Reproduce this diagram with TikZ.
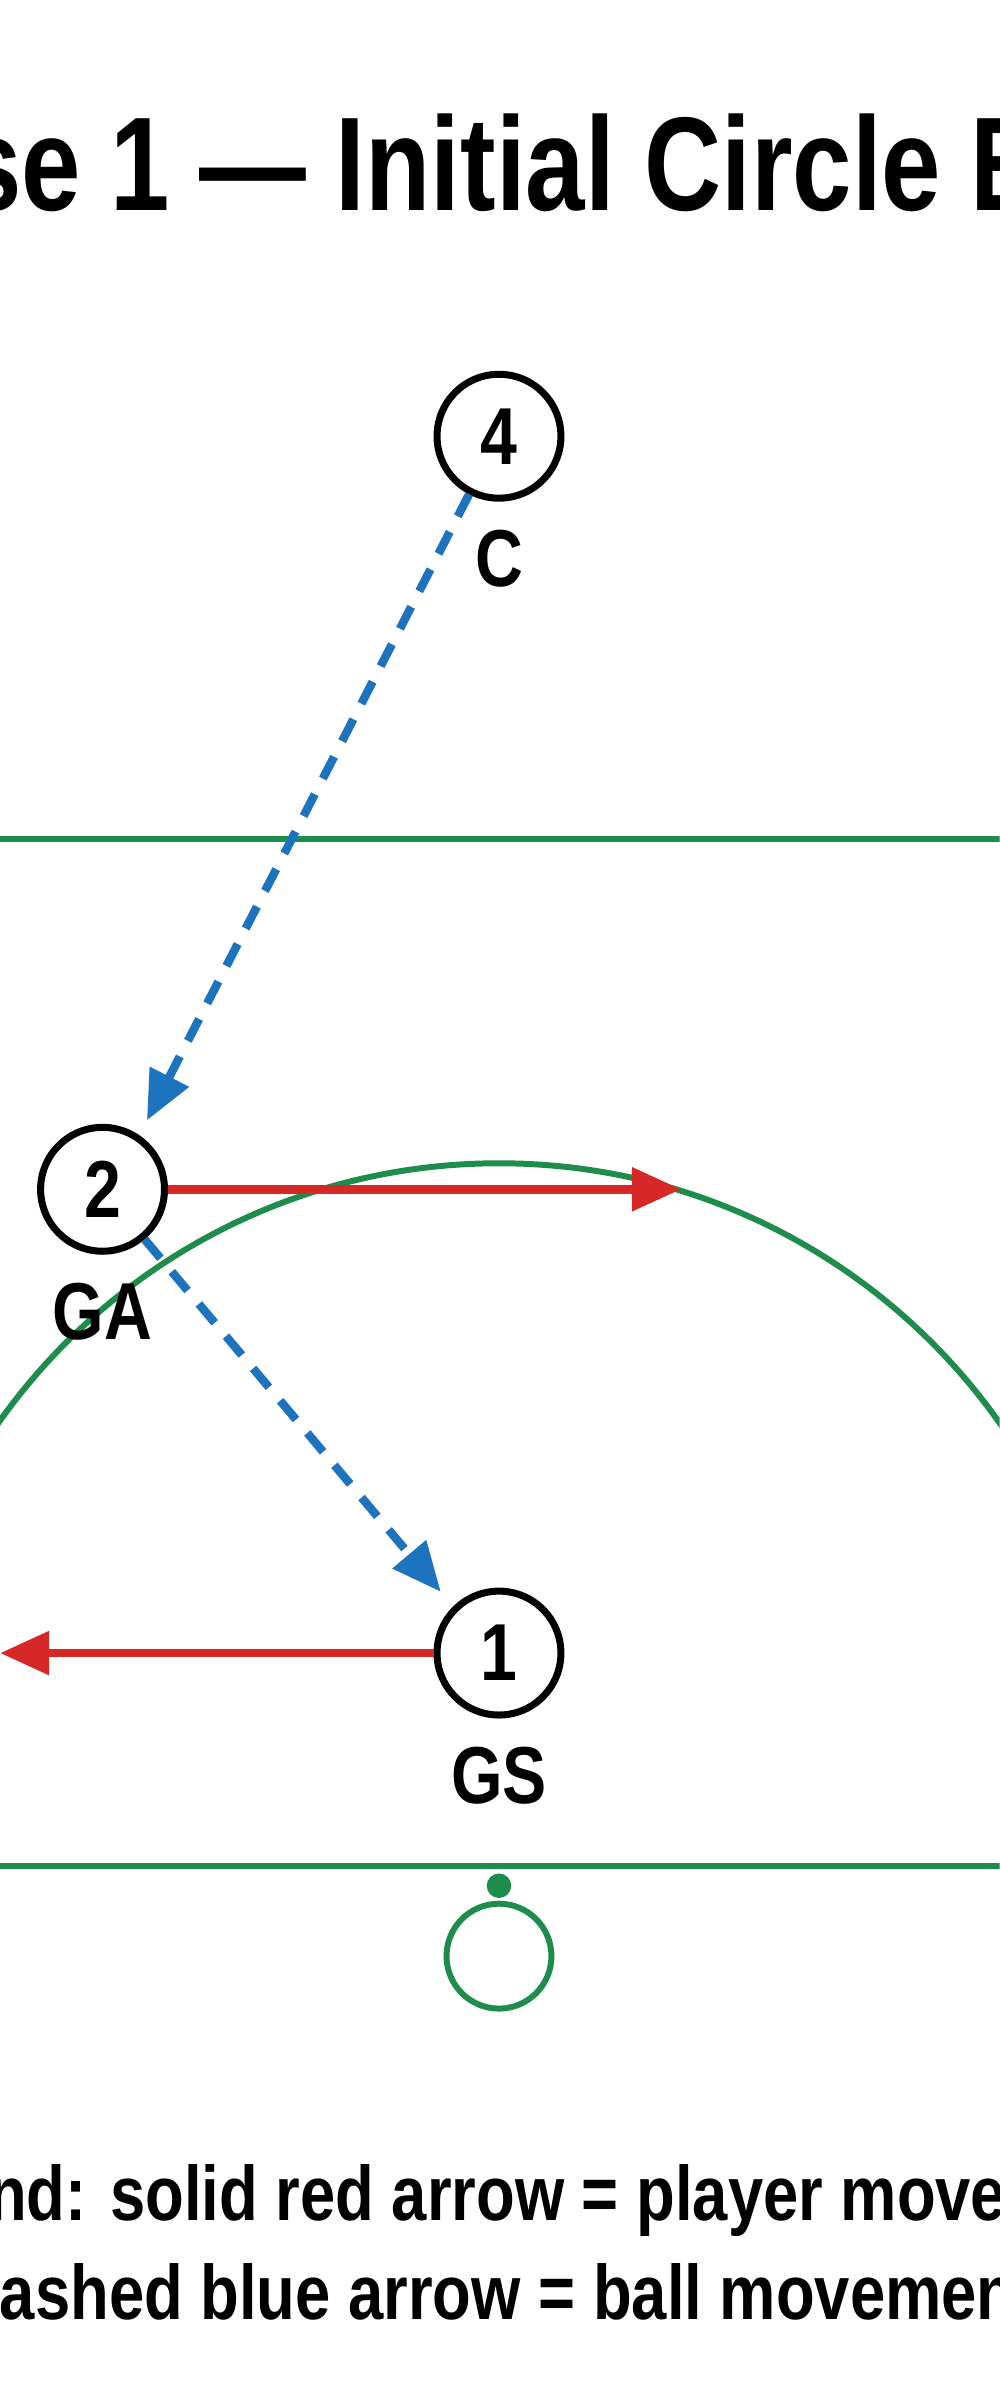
\documentclass[tikz,border=0pt]{standalone}
\usepackage{fontspec}
\setmainfont{Liberation Sans}
\usetikzlibrary{arrows.meta}
\definecolor{crt}{RGB}{30,140,75}
\definecolor{rd}{RGB}{215,40,40}
\definecolor{bl}{RGB}{30,115,190}
\newcommand{\cz}[1]{\scalebox{0.82}[1]{#1}}
\tikzset{
  player/.style={circle,draw=black,line width=2pt,fill=white,minimum size=1.24cm,inner sep=0pt,font=\fontsize{23}{25}\selectfont\bfseries},
  lab/.style={font=\fontsize{23}{25}\selectfont\bfseries},
  court/.style={draw=crt,line width=1.7pt},
  run/.style={draw=rd,line width=2.4pt,-{Triangle[length=14pt,width=12pt]}},
  pass/.style={draw=bl,line width=2.4pt,dash pattern=on 7pt off 5pt,-{Triangle[length=14pt,width=12pt]}},
}
\begin{document}
\begin{tikzpicture}[x=0.015314cm,y=-0.015314cm]
\useasboundingbox[fill=white] (0,0) rectangle (653,1568);
\clip (0,0) rectangle (653,1568);
\node[font=\fontsize{38}{40}\selectfont\bfseries] (title) at (330,115) {\scalebox{0.8}[1]{Phase 1 — Initial Circle Entry}};
% court
\draw[court] (0,548) -- (653,548);
\draw[court] (0,1219) -- (653,1219);
\begin{scope}
\clip (0,548) rectangle (653,1219);
\draw[court] (326,1160) circle[radius=400];
\end{scope}
\fill[crt] (326,1232) circle[radius=8];
\node[circle,draw=crt,line width=1.7pt,minimum size=1.05cm] (post) at (326,1278) {};
% players
\coordinate (r1) at (445,777);
\coordinate (r2) at (0,1080);
\coordinate (b1) at (96,732);
\coordinate (b2) at (288,1040);
\node[player] (p4) at (326,285) {\cz{4}};
\node[lab] (c) at (326,365) {\cz{C}};
\node[player] (p2) at (67,777) {\cz{2}};
\node[lab] (ga) at (67,857) {\cz{GA}};
\node[player] (p1) at (326,1080) {\cz{1}};
\node[lab] (gs) at (326,1160) {\cz{GS}};
\draw[pass] (p4) -- (b1);
\draw[pass] (p2) -- (b2);
\draw[run] (p2) -- (r1);
\draw[run] (p1) -- (r2);
\node[font=\fontsize{22}{24}\selectfont\bfseries,align=center] (legend) at (326,1465) {\cz{Legend: solid red arrow = player movement}\\[4pt]\cz{dashed blue arrow = ball movement}};
\end{tikzpicture}
\end{document}
